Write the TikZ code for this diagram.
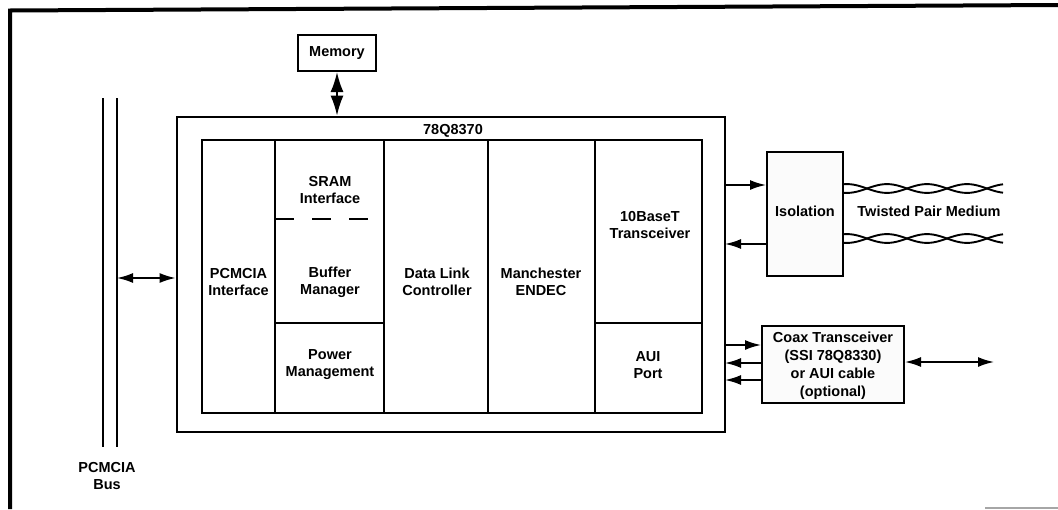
\documentclass[tikz,border=0pt]{standalone}
\usepackage{fontspec}
\setmainfont{Liberation Sans}
\usetikzlibrary{arrows.meta}
\begin{document}
\begin{tikzpicture}[x=1pt,y=-1pt,
  txt/.style={font=\fontsize{14.5}{17}\selectfont\bfseries, align=center, inner sep=0pt},
  cellbox/.style={draw, line width=2.3pt, inner sep=0pt},
  plainbox/.style={draw, line width=2pt, inner sep=0pt},
  arr/.style={line width=1.8pt, -{Latex[length=16pt,width=10pt]}},
  dbl/.style={line width=1.8pt, {Latex[length=16pt,width=10pt]}-{Latex[length=16pt,width=10pt]}},
  twist/.style={line width=1.9pt}
]
\useasboundingbox (0,0) rectangle (1058,509);
% outer frame
\draw[line width=4pt] (10,509) -- (10,10.5) -- (1058,5);
\draw[gray!70, line width=1.3pt] (985,508) -- (1058,508);

% PCMCIA bus
\draw[line width=2pt] (103,98) -- (103,447);
\draw[line width=2pt] (117,98) -- (117,447);
\node[txt] (buslbl) at (107,476) {PCMCIA\\Bus};

% chip
\node[draw, line width=2.8pt, minimum width=548pt, minimum height=315pt, inner sep=0pt] (chip) at (451,274.5) {};
\node[txt] (chiplbl) at (453,131) {78Q8370};

% cells
\node[cellbox, minimum width=73pt, minimum height=273pt] (pcm) at (238.5,276.5) {};
\node[cellbox, minimum width=109pt, minimum height=183pt] (buf) at (329.5,231.5) {};
\node[cellbox, minimum width=109pt, minimum height=90pt] (pwr) at (329.5,368) {};
\node[cellbox, minimum width=104pt, minimum height=273pt] (dlc) at (436,276.5) {};
\node[cellbox, minimum width=107pt, minimum height=273pt] (endec) at (541.5,276.5) {};
\node[cellbox, minimum width=107pt, minimum height=183pt] (tbt) at (648.5,231.5) {};
\node[cellbox, minimum width=107pt, minimum height=90pt] (aui) at (648.5,368) {};
\draw[line width=2.3pt, dash pattern=on 19pt off 18pt] (275,219) -- (372,219);

\node[txt] (sramlbl) at (330,190) {SRAM\\Interface};
\node[txt] (buflbl) at (330,282) {Buffer\\Manager};
\node[txt] (pcmlbl) at (238.5,282) {PCMCIA\\Interface};
\node[txt] (dlclbl) at (437,282) {Data Link\\Controller};
\node[txt] (endeclbl) at (541,282) {Manchester\\ENDEC};
\node[txt] (pwrlbl) at (330,365) {Power\\Management};
\node[txt] (tbtlbl) at (650,225) {10BaseT\\Transceiver};
\node[txt] (auilbl) at (648,365) {AUI\\Port};

% memory
\node[plainbox, minimum width=78pt, minimum height=36pt, txt, draw, line width=2pt] (mem) at (337,53) {Memory};
\draw[line width=1.8pt, {Latex[length=20pt,width=13pt]}-{Latex[length=20pt,width=13pt]}] (mem.south) -- (mem.south |- chip.north);

% bus arrow
\coordinate (busR) at (117,278);
\draw[dbl] (busR) -- (busR -| chip.west);

% isolation
\node[plainbox, fill=gray!3, minimum width=76pt, minimum height=124pt] (iso) at (805,214) {};
\node[txt] (isolbl) at (805,211) {Isolation};
\coordinate (ia) at (725,185);
\coordinate (ib) at (725,244);
\draw[arr] (ia) -- (ia -| iso.west);
\draw[arr] (ib -| iso.west) -- (ib);

% twisted pairs
\draw[twist] plot[domain=843:1003, samples=120] (\x, {188.5 - 4.4*cos(4.5*(\x-847))});
\draw[twist] plot[domain=843:1003, samples=120] (\x, {188.5 + 4.4*cos(4.5*(\x-847))});
\draw[twist] plot[domain=843:1003, samples=120] (\x, {238.5 - 4.4*cos(4.5*(\x-847))});
\draw[twist] plot[domain=843:1003, samples=120] (\x, {238.5 + 4.4*cos(4.5*(\x-847))});
\node[txt] (tplbl) at (929,211) {Twisted Pair Medium};

% coax
\node[plainbox, fill=gray!3, minimum width=142pt, minimum height=77pt] (coax) at (833,364.5) {};
\node[txt, font=\fontsize{14.5}{18}\selectfont\bfseries] (coaxlbl) at (833,366) {Coax Transceiver\\(SSI 78Q8330)\\or AUI cable\\(optional)};
\coordinate (ca) at (725,345);
\coordinate (cb) at (725,363);
\coordinate (cc) at (725,380);
\draw[arr] (ca) -- (ca -| coax.west);
\draw[arr] (cb -| coax.west) -- (cb);
\draw[arr] (cc -| coax.west) -- (cc);
\coordinate (cr) at (994,362);
\draw[dbl] (cr -| coax.east) -- (cr);
\end{tikzpicture}
\end{document}
